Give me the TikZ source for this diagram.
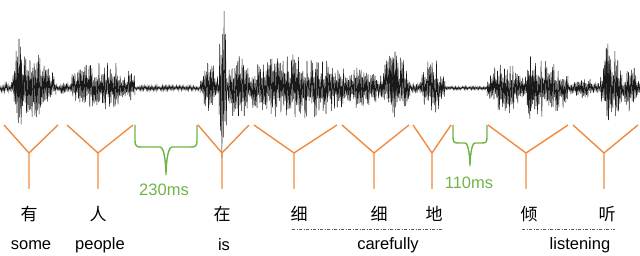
\documentclass[tikz,border=0pt]{standalone}
\usepackage{fontspec}
\setmainfont{Liberation Sans}
\newfontfamily\cjk{Noto Sans CJK SC}
\definecolor{ora}{RGB}{240,138,62}
\definecolor{grn}{RGB}{112,180,72}
\tikzset{
  wave/.style={line width=0.5pt, black!90},
  ybr/.style={draw=ora, line width=1.4pt},
  gbr/.style={draw=grn, line width=1.4pt},
  zh/.style={font=\cjk\fontsize{17}{17}\selectfont, inner sep=0pt},
  en/.style={font=\fontsize{16.5}{16.5}\selectfont, inner sep=0pt},
  gl/.style={font=\fontsize{16.5}{16.5}\selectfont, text=grn, inner sep=0pt},
  dd/.style={draw=black!65, dash pattern=on 3pt off 1.5pt on 1pt off 1.5pt, line width=0.8pt}
}
\newcommand\wseg[5]{%
  \gdef\wpts{}%
  \pgfmathtruncatemacro\wn{(#2-#1)/0.7}%
  \foreach \k in {0,...,\wn}{%
    \pgfmathsetmacro\wt{\k/\wn}%
    \pgfmathsetmacro\we{#5+(1-#5)*sin(180*\wt)}%
    \pgfmathsetmacro\wx{#1+\k*(#2-#1)/\wn}%
    \pgfmathsetmacro\wr{0.25+0.75*rnd}%
    \pgfmathsetmacro\wy{mod(\k,2)==1 ? 88-(#3)*\we*\wr : 88+(#4)*\we*\wr}%
    \xdef\wpts{\wpts (\wx,\wy)}%
  }%
  \edef\wtmp{\noexpand\draw[wave] plot[sharp plot] coordinates {\wpts};}\wtmp
}
\begin{document}
\begin{tikzpicture}[x=1pt,y=-1pt]
\useasboundingbox (0,0) rectangle (640,256);
\pgfmathsetseed{4711}
% waveform
\wseg{0}{11}{5}{5}{0.6}
\wseg{11}{56}{38}{30}{0.25}
\wseg{14}{24}{58}{48}{0.3}
\wseg{56}{70}{6}{6}{0.5}
\wseg{70}{135}{28}{22}{0.45}
\wseg{135}{200}{3}{3}{0.8}
\wseg{200}{219}{28}{25}{0.3}
\wseg{219}{227}{88}{77}{0.4}
\wseg{227}{250}{40}{38}{0.3}
\wseg{250}{345}{34}{32}{0.6}
\wseg{345}{380}{22}{22}{0.5}
\wseg{380}{410}{38}{30}{0.3}
\wseg{390}{398}{42}{30}{0.5}
\wseg{410}{420}{6}{6}{0.5}
\wseg{420}{445}{30}{28}{0.3}
\wseg{445}{487}{2}{2}{0.8}
\wseg{487}{522}{28}{28}{0.3}
\wseg{522}{568}{30}{30}{0.5}
\wseg{527}{534}{36}{36}{0.5}
\wseg{568}{600}{10}{10}{0.4}
\wseg{600}{622}{50}{38}{0.3}
\wseg{604}{610}{58}{42}{0.5}
\wseg{622}{640}{25}{25}{0.3}
% Y brackets
\foreach \n/\l/\r/\j in {a/4/58/29, b/67/133/98, c/198/249/222, d/254/337/294, e/342/409/374, f/413/451/432, g/488/568/526, h/573/638/604}{
  \coordinate (\n L) at (\l,125);
  \coordinate (\n R) at (\r,125);
  \coordinate (\n J) at (\j,153);
  \coordinate (\n B) at (\j,189);
  \draw[ybr] (\n L) -- (\n J) -- (\n R) (\n J) -- (\n B);
}
% green braces
\coordinate (g1L) at (135,125); \coordinate (g1R) at (197,125); \coordinate (g1T) at (166,175);
\draw[gbr] (g1L) -- ++(0,15) .. controls ++(0,7) and ++(-5,0) .. (142,147) -- (160,147)
  .. controls ++(5,0) and ++(0,-6) .. (g1T)
  .. controls ++(0,-6) and ++(-5,0) .. (172,147) -- (190,147)
  .. controls ++(5,0) and ++(0,7) .. (197,140) -- (g1R);
\node[gl] (t230) at (164,190) {230ms};
\coordinate (g2L) at (453,125); \coordinate (g2R) at (487,125); \coordinate (g2T) at (470,166);
\draw[gbr] (g2L) -- ++(0,12) .. controls ++(0,5) and ++(-4,0) .. (458,143) -- (465,143)
  .. controls ++(4,0) and ++(0,-5) .. (g2T)
  .. controls ++(0,-5) and ++(-4,0) .. (475,143) -- (482,143)
  .. controls ++(4,0) and ++(0,5) .. (487,137) -- (g2R);
\node[gl] (t110) at (469,183) {110ms};
% Chinese characters
\node[zh] (z1) at (29,214) {有};
\node[zh] (z2) at (98,214) {人};
\node[zh] (z3) at (222,214) {在};
\node[zh] (z4) at (299,214) {细};
\node[zh] (z5) at (379,214) {细};
\node[zh] (z6) at (434,214) {地};
\node[zh] (z7) at (529,214) {倾};
\node[zh] (z8) at (607,214) {听};
% dash-dot lines
\coordinate (d1a) at (292,229); \coordinate (d1b) at (443,229);
\coordinate (d2a) at (522,229); \coordinate (d2b) at (615,229);
\draw[dd] (d1a) -- (d1b);
\draw[dd] (d2a) -- (d2b);
% English words
\node[en] (e1) at (31,245) {some};
\node[en] (e2) at (100,245) {people};
\node[en] (e3) at (224,245) {is};
\node[en] (e4) at (388,245) {carefully};
\node[en] (e5) at (580,245) {listening};
\end{tikzpicture}
\end{document}
